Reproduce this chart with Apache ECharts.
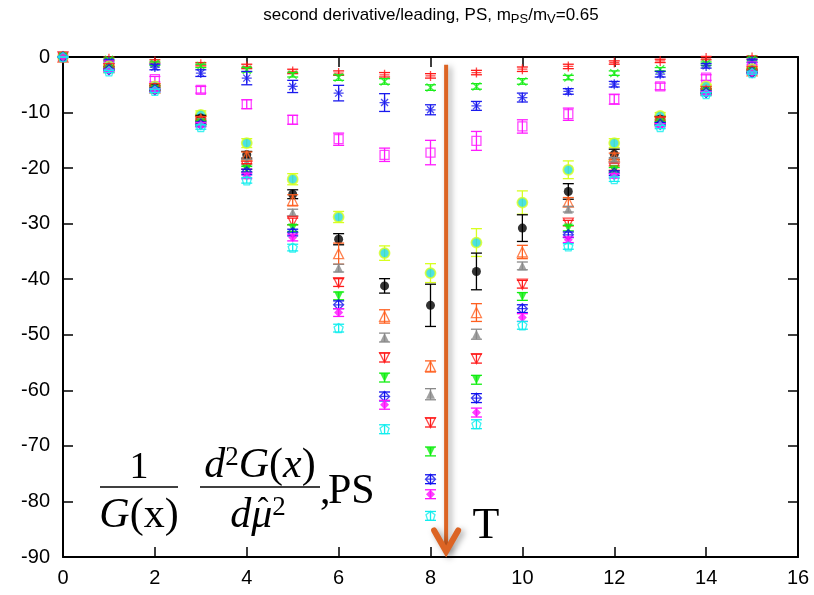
<!DOCTYPE html>
<html><head><meta charset="utf-8">
<script src="https://cdn.jsdelivr.net/npm/echarts@6/dist/echarts.min.js"></script>
<style>html,body{margin:0;padding:0;background:#fff}#c{width:814px;height:595px}</style>
</head><body><div id="c"></div>
<script>
// ---- data ----
const xs = [0,1,2,3,4,5,6,7,8,9,10,11,12,13,14,15];
const xTickInterval = 2;
const yTickInterval = 10;

const valRedPlus   = [0,-0.3,-0.8,-1.3,-1.7,-2.6,-2.9,-3.2,-3.4,-2.8,-2.2,-1.7,-1.0,-0.7,-0.2,-0.1];
const errRedPlus   = [0,0.3,0.3,0.3,0.4,0.4,0.4,0.4,0.4,0.4,0.4,0.4,0.3,0.3,0.3,0.3];
const valGreenX    = [0,-0.5,-1.2,-1.6,-2.3,-3.2,-3.7,-4.4,-5.5,-5.3,-4.4,-3.7,-2.9,-2.2,-1.2,-0.4];
const errGreenX    = [0,0.3,0.3,0.3,0.4,0.4,0.5,0.5,0.5,0.5,0.5,0.4,0.4,0.3,0.3,0.3];
const valBlueStar  = [0,-0.8,-1.8,-2.9,-3.8,-5.3,-6.5,-8.2,-9.5,-8.8,-7.3,-6.2,-4.9,-3.1,-1.6,-0.7];
const errBlueStar  = [0,0.3,0.5,0.6,1.2,1.1,1.4,1.6,0.9,0.8,0.8,0.5,0.5,0.5,0.4,0.3];
const valMagSq     = [0,-1.5,-4.0,-5.9,-8.5,-11.3,-14.8,-17.6,-17.2,-15.1,-12.5,-10.3,-7.6,-5.3,-3.7,-1.7];
const errMagSq     = [0,0.3,0.5,0.6,0.8,0.8,1.1,1.2,2.2,1.7,1.2,1.1,0.9,0.6,0.5,0.3];
const valYellow    = [0,-1.7,-5.3,-10.4,-15.5,-22.0,-28.8,-35.3,-38.9,-33.4,-26.2,-20.3,-15.5,-10.6,-5.3,-2.2];
const errYellow    = [0,0.3,0.5,0.7,0.8,1.0,1.0,1.3,1.7,2.5,2.1,1.6,0.8,0.6,0.4,0.3];
const valBlack     = [0,-2.0,-5.5,-11.0,-17.6,-24.7,-32.8,-41.2,-44.7,-38.6,-30.8,-24.2,-17.5,-11.2,-6.1,-2.5];
const errBlack     = [0,0.3,0.4,0.5,0.6,0.8,1.0,1.3,3.8,3.3,2.4,1.4,0.9,0.5,0.4,0.3];
const valOrangeTri = [0,-1.9,-5.6,-11.2,-17.8,-25.8,-35.4,-46.7,-55.7,-46.0,-35.1,-26.1,-17.9,-11.3,-6.0,-2.5];
const errOrangeTri = [0,0.3,0.4,0.5,0.7,1.0,1.9,1.2,1.0,1.6,1.2,0.8,0.6,0.5,0.3,0.3];
const valGrayTri   = [0,-2.0,-5.6,-11.5,-18.9,-28.0,-38.0,-50.5,-60.7,-49.9,-37.6,-27.4,-18.5,-11.5,-6.1,-2.6];
const errGrayTri   = [0,0.2,0.3,0.4,0.5,0.6,0.7,0.8,1.0,0.9,0.7,0.5,0.4,0.3,0.3,0.2];
const valRedDown   = [0,-2.1,-5.7,-11.7,-19.7,-29.6,-40.6,-54.1,-65.8,-54.3,-40.9,-29.9,-20.0,-11.7,-6.2,-2.6];
const errRedDown   = [0,0.2,0.3,0.4,0.5,0.6,0.7,0.8,0.8,0.8,0.7,0.5,0.4,0.3,0.3,0.2];
const valGreenDown = [0,-2.2,-5.8,-11.9,-20.2,-30.8,-43.0,-57.7,-71.0,-58.1,-43.1,-30.8,-20.3,-11.9,-6.3,-2.7];
const errGreenDown = [0,0.2,0.3,0.4,0.5,0.6,0.7,0.8,0.8,0.8,0.7,0.5,0.4,0.3,0.3,0.2];
const valBlueDia   = [0,-2.3,-5.9,-12.1,-20.7,-31.6,-44.6,-61.1,-76.0,-61.4,-45.3,-32.0,-20.9,-12.1,-6.4,-2.8];
const errBlueDia   = [0,0.2,0.3,0.4,0.5,0.6,0.7,0.8,0.8,0.8,0.7,0.5,0.4,0.3,0.3,0.2];
const valMagDia    = [0,-2.4,-6.0,-12.2,-21.4,-32.5,-46.0,-62.6,-78.7,-64.0,-46.9,-32.9,-21.4,-12.3,-6.5,-2.8];
const errMagDia    = [0,0.2,0.3,0.4,0.5,0.6,0.7,0.8,0.8,0.8,0.7,0.5,0.4,0.3,0.3,0.2];
const valCyanPent  = [0,-2.6,-6.1,-12.6,-22.2,-34.3,-48.8,-67.0,-82.6,-66.1,-48.3,-34.1,-22.0,-12.6,-6.7,-2.9];
const errCyanPent  = [0,0.2,0.3,0.4,0.5,0.6,0.7,0.8,0.8,0.8,0.7,0.5,0.4,0.3,0.3,0.2];

// annotation (data-space) positions
const arrowX = 8.34, arrowTop = -1.4, arrowBottom = -89.0;

// ---- styles ----
const P_PLUS = 'path://M0,5L10,5M5,0L5,10';
const P_CROSS = 'path://M0,0L10,10M10,0L0,10';
const P_STAR = 'path://M0,5L10,5M5,0L5,10M1.5,1.5L8.5,8.5M8.5,1.5L1.5,8.5';
const P_DOWN = 'path://M0,0L10,0L5,9Z';
const P_PENT = 'path://M5,0L10,3.8L8.1,10L1.9,10L0,3.8Z';
const P_DIA = 'path://M5,0L10,5L5,10L0,5ZM0,5L10,5';

const defs = [
  {v:valRedPlus, e:errRedPlus, c:'#ff1a1a', sym:P_PLUS, open:true, size:10},
  {v:valGreenX, e:errGreenX, c:'#1aee1a', sym:P_CROSS, open:true, size:8},
  {v:valBlueStar, e:errBlueStar, c:'#1a1aee', sym:P_STAR, open:true, size:10},
  {v:valMagSq, e:errMagSq, c:'#ff1aff', sym:'rect', open:true, size:9},
  {v:valYellow, e:errYellow, c:'#d8ff20', sym:'circle', open:false, size:10, fill:'#20d8e0'},
  {v:valBlack, e:errBlack, c:'#000000', sym:'circle', open:false, size:9},
  {v:valOrangeTri, e:errOrangeTri, c:'#ff6020', sym:'triangle', open:true, size:10},
  {v:valGrayTri, e:errGrayTri, c:'#8a8a8a', sym:'triangle', open:false, size:9},
  {v:valRedDown, e:errRedDown, c:'#ff1a1a', sym:P_DOWN, open:true, size:10},
  {v:valGreenDown, e:errGreenDown, c:'#10ee10', sym:P_DOWN, open:false, size:9},
  {v:valBlueDia, e:errBlueDia, c:'#1010ee', sym:P_DIA, open:true, size:10},
  {v:valMagDia, e:errMagDia, c:'#ff10ff', sym:'diamond', open:false, size:9},
  {v:valCyanPent, e:errCyanPent, c:'#10eeee', sym:P_PENT, open:true, size:9}
];

function errRender(color){
  return function(params, api){
    const x = api.value(0), lo = api.value(1), hi = api.value(2);
    const a = api.coord([x, lo]), b = api.coord([x, hi]);
    const w = 5.5;
    const st = {stroke: color, lineWidth: 1.3};
    return {type:'group', children:[
      {type:'line', shape:{x1:a[0],y1:a[1],x2:b[0],y2:b[1]}, style:st},
      {type:'line', shape:{x1:a[0]-w,y1:a[1],x2:a[0]+w,y2:a[1]}, style:st},
      {type:'line', shape:{x1:b[0]-w,y1:b[1],x2:b[0]+w,y2:b[1]}, style:st}
    ]};
  };
}

const series = [];
defs.forEach((d, i) => {
  series.push({
    type:'custom', xAxisIndex:0, yAxisIndex:0, z: 2 + i*2,
    renderItem: errRender(d.c),
    encode:{x:0, y:[1,2]},
    data: xs.map((x, k) => [x, d.v[k] - d.e[k], d.v[k] + d.e[k]]),
    silent:true, animation:false, clip:false
  });
  series.push({
    type:'scatter', xAxisIndex:0, yAxisIndex:0, z: 3 + i*2,
    symbol: d.sym, symbolSize: d.size,
    data: xs.map((x, k) => [x, d.v[k]]),
    itemStyle: d.open ? {color:'rgba(0,0,0,0)', borderColor:d.c, borderWidth:1.3}
             : (d.fill ? {color:d.fill, borderColor:d.c, borderWidth:1.8} : {color:d.c}),
    animation:false
  });
});

const axisLine = {show:true, onZero:false, lineStyle:{color:'#000', width:2}};
const tick = {show:true, inside:true, length:10, lineStyle:{color:'#000', width:1.5}};
const lab = {color:'#000', fontSize:20, fontFamily:'Liberation Sans, Arial, sans-serif'};

const chart = echarts.init(document.getElementById('c'), null, {renderer:'canvas'});
chart.setOption({
  backgroundColor:'#fff',
  animation:false,
  grid:{left:63, top:57, width:735, height:500, containLabel:false},
  xAxis:[
    {type:'value', position:'bottom', min:0, max:16, interval:xTickInterval, axisLine, axisTick:tick,
     axisLabel:Object.assign({margin:11}, lab), splitLine:{show:false}},
    {type:'value', position:'top', min:0, max:16, interval:xTickInterval, axisLine, axisTick:tick,
     axisLabel:{show:false}, splitLine:{show:false}}
  ],
  yAxis:[
    {type:'value', position:'left', min:-90, max:0, interval:yTickInterval, axisLine, axisTick:tick,
     axisLabel:Object.assign({margin:13}, lab), splitLine:{show:false}},
    {type:'value', position:'right', min:-90, max:0, interval:yTickInterval, axisLine, axisTick:tick,
     axisLabel:{show:false}, splitLine:{show:false}}
  ],
  series
});

const pTop = chart.convertToPixel({xAxisIndex:0, yAxisIndex:0}, [arrowX, arrowTop]);
const pBot = chart.convertToPixel({xAxisIndex:0, yAxisIndex:0}, [arrowX, arrowBottom]);
const arrowColor = '#dc6424';
const serif = 'Liberation Serif, DejaVu Serif, serif';
const shadow = {shadowBlur:6, shadowColor:'rgba(0,0,0,0.35)', shadowOffsetX:3, shadowOffsetY:2};
const iStyle = {fontStyle:'italic', fontSize:42, fontFamily:serif};
const supStyle = {fontSize:27, fontFamily:serif, padding:[0,0,16,0]};

chart.setOption({
  graphic:[
    {type:'text', x:431, y:5, z:100, style:{
      text:'second derivative/leading, PS, m{s|PS}/m{s|V}=0.65',
      fill:'#000', font:'17px Liberation Sans, Arial, sans-serif', textAlign:'center',
      rich:{s:{fontSize:13, fontFamily:'Liberation Sans, Arial, sans-serif', padding:[8,0,0,0]}}
    }},
    {type:'line', z:100, shape:{x1:pTop[0], y1:pTop[1], x2:pBot[0], y2:pBot[1]},
     style:Object.assign({stroke:arrowColor, lineWidth:4}, shadow)},
    {type:'polyline', z:101, shape:{points:[[pBot[0]-12, pBot[1]-21],[pBot[0], pBot[1]],[pBot[0]+12, pBot[1]-21]]},
     style:Object.assign({stroke:arrowColor, lineWidth:6, lineCap:'round', lineJoin:'miter', fill:null}, shadow)},
    {type:'text', x:486, y:526, z:100, style:{text:'T', font:'44px '+serif, fill:'#000', textAlign:'center', textVerticalAlign:'middle'}},
    // formula
    {type:'text', x:139, y:468, z:100, style:{text:'1', font:'38px '+serif, fill:'#000', textAlign:'center', textVerticalAlign:'middle'}},
    {type:'line', z:100, shape:{x1:100, y1:487, x2:178, y2:487}, style:{stroke:'#000', lineWidth:1.5}},
    {type:'text', x:139, y:516, z:100, style:{text:'{i|G}(x)', font:'42px '+serif, fill:'#000', textAlign:'center', textVerticalAlign:'middle',
      rich:{i:iStyle}}},
    {type:'text', x:260, y:466, z:100, style:{text:'{i|d}{sup|2}{i|G}({i|x})', font:'42px '+serif, fill:'#000', textAlign:'center', textVerticalAlign:'middle',
      rich:{i:iStyle, sup:supStyle}}},
    {type:'line', z:100, shape:{x1:200, y1:487, x2:320, y2:487}, style:{stroke:'#000', lineWidth:1.5}},
    {type:'text', x:258, y:516, z:100, style:{text:'{i|d\u03bc}{sup|2}', font:'42px '+serif, fill:'#000', textAlign:'center', textVerticalAlign:'middle',
      rich:{i:iStyle, sup:supStyle}}},
    {type:'text', x:263, y:511, z:100, style:{text:'\u02c6', font:'32px '+serif, fill:'#000', textAlign:'center', textVerticalAlign:'middle'}},
    {type:'text', x:320, y:492, z:100, style:{text:',', font:'42px '+serif, fill:'#000', textAlign:'left', textVerticalAlign:'middle'}},
    {type:'text', x:328, y:492, z:100, style:{text:'PS', font:'42px '+serif, fill:'#000', textAlign:'left', textVerticalAlign:'middle'}}
  ]
});
</script></body></html>
